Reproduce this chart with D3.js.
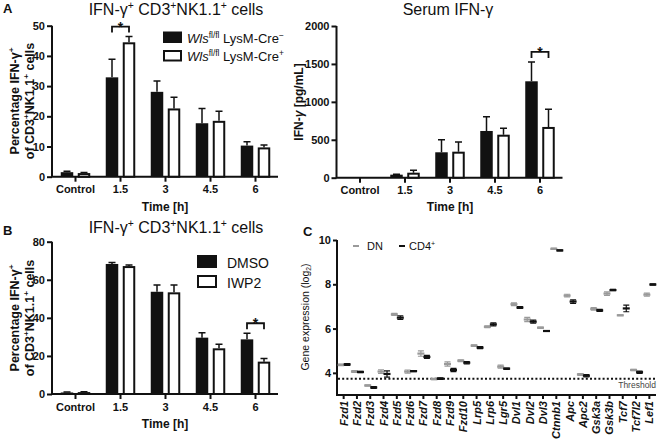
<!DOCTYPE html>
<html>
<head>
<meta charset="utf-8">
<script src="https://cdn.jsdelivr.net/npm/d3@7"></script>
<style>
  body { margin: 0; background: #fff; }
  svg { font-family: "Liberation Sans", Arial, sans-serif; }
</style>
</head>
<body>
<script>
// ---- data ----
var timeCats = ["Control", "1.5", "3", "4.5", "6"];

// A, left: % IFN-g+ of CD3+NK1.1+ cells
var aCellsNeg    = [1.5, 32.9, 28.1, 17.7, 10.3];
var aCellsNegErr = [0.3, 6.0, 3.6, 4.9, 1.3];
var aCellsPos    = [1.2, 44.5, 22.6, 18.5, 9.7];
var aCellsPosErr = [0.2, 1.9, 3.7, 3.2, 0.8];

// A, right: serum IFN-g (pg/mL)
var aSerumNeg    = [0, 40, 335, 616, 1271];
var aSerumNegErr = [0, 6, 166, 188, 255];
var aSerumPos    = [0, 66, 343, 567, 669];
var aSerumPosErr = [0, 31, 128, 84, 233];

// B: DMSO vs IWP2
var bDmso    = [0.8, 68.3, 53.7, 29.6, 28.7];
var bDmsoErr = [0.2, 0.8, 3.5, 2.6, 3.2];
var bIwp2    = [1.0, 67.2, 53.4, 24.0, 17.0];
var bIwp2Err = [0.2, 0.6, 3.8, 2.1, 1.7];

// C: gene expression (log2)
var genes = ["Fzd1","Fzd2","Fzd3","Fzd4","Fzd5","Fzd6","Fzd7","Fzd8","Fzd9","Fzd10",
             "Lrp5","Lrp6","Lgr5","Dvl1","Dvl2","Dvl3","Ctnnb1","Apc","Apc2",
             "Gsk3a","Gsk3b","Tcf7","Tcf7l2","Lef1"];
var dnExpr  = [4.36,4.06,3.43,4.06,6.64,4.06,4.87,3.72,4.40,4.55,5.23,6.08,4.28,7.10,6.41,6.04,9.60,7.49,3.93,6.89,7.58,6.60,4.13,7.53];
var dnErr   = [0.03,0.04,0.03,0.08,0.05,0.07,0.12,0.03,0.10,0.04,0.03,0.04,0.07,0.06,0.10,0.03,0.03,0.06,0.04,0.06,0.08,0.02,0.03,0.07];
var cd4Expr = [4.38,4.04,3.34,3.95,6.49,4.08,4.72,3.74,4.13,4.46,5.14,6.19,4.19,6.95,6.31,5.89,9.53,7.22,3.87,6.82,7.74,6.91,4.03,7.99];
var cd4Err  = [0.04,0.03,0.04,0.14,0.08,0.02,0.07,0.04,0.07,0.05,0.05,0.07,0.03,0.04,0.07,0.02,0.02,0.08,0.05,0.05,0.03,0.15,0.05,0.03];
var threshold = 3.73;

var svg = d3.select("body").append("svg")
    .attr("width", 661)
    .attr("height", 440);

// text with superscripts / italics, parts = [[text, kind], ...]
function rich(sel, parts, fs) {
    var shift = 0;
    parts.forEach(function (p) {
        var kind = p[1] || "";
        var ts = sel.append("tspan").text(p[0]);
        var target = 0;
        if (kind.indexOf("sup") >= 0) { target = -fs * 0.38; ts.attr("font-size", fs * 0.65); }
        if (kind.indexOf("sub") >= 0) { target = fs * 0.22; ts.attr("font-size", fs * 0.65); }
        if (kind.indexOf("i") >= 0) ts.attr("font-style", "italic");
        ts.attr("dy", target - shift);
        shift = target;
    });
    return sel;
}

function label(x, y, fs, weight, anchor, parts, rotate) {
    var t = svg.append("text")
        .attr("font-size", fs)
        .attr("font-weight", weight)
        .attr("text-anchor", anchor)
        .attr("fill", "#111");
    if (rotate) t.attr("transform", "translate(" + x + "," + y + ") rotate(-90)");
    else t.attr("x", x).attr("y", y);
    return rich(t, parts, fs);
}

function barPanel(cfg) {
    var g = svg.append("g");
    var x = d3.scaleBand().domain(timeCats).range([cfg.left, cfg.right]);
    var y = d3.scaleLinear().domain([0, cfg.max]).range([cfg.bottom, cfg.top]);

    var ya = g.append("g")
        .attr("transform", "translate(" + (cfg.left - 1) + ",0)")
        .call(d3.axisLeft(y).tickValues(cfg.ticks).tickFormat(d3.format("d")).tickSize(5).tickPadding(2));
    var xa = g.append("g")
        .attr("transform", "translate(0," + cfg.bottom + ")")
        .call(d3.axisBottom(x).tickSize(5).tickPadding(4));
    [ya, xa].forEach(function (a) {
        a.select(".domain").remove();
        a.selectAll("line").attr("stroke", "#111").attr("stroke-width", 2);
        a.selectAll("text").attr("font-size", 11).attr("font-weight", "bold")
            .attr("fill", "#111").attr("font-family", null);
    });
    g.append("path")
        .attr("d", "M" + (cfg.left - 1) + "," + cfg.top + "V" + (cfg.bottom + 1) +
                   "M" + (cfg.left - 2) + "," + cfg.bottom + "H" + cfg.right)
        .attr("stroke", "#111").attr("stroke-width", 2).attr("fill", "none");

    var bw = 12.5, gap = 4.5;
    var centre = function (c) { return x(c) + x.bandwidth() / 2; };
    cfg.series.forEach(function (s, si) {
        var off = si === 0 ? -gap / 2 - bw : gap / 2;
        var sg = g.append("g");
        var items = timeCats.map(function (c, i) { return { c: c, v: s.vals[i], e: s.errs[i] }; })
            .filter(function (d) { return d.v > 0; });

        sg.selectAll("line.err").data(items).enter().append("path")
            .attr("d", function (d) {
                var cx = centre(d.c) + off + bw / 2;
                return "M" + cx + "," + y(d.v) + "V" + y(d.v + d.e) +
                       "M" + (cx - 3.5) + "," + y(d.v + d.e) + "H" + (cx + 3.5);
            })
            .attr("stroke", "#111").attr("stroke-width", 1.5).attr("fill", "none");

        sg.selectAll("rect").data(items).enter().append("rect")
            .attr("x", function (d) { return centre(d.c) + off + (s.fill === "#fff" ? 1 : 0); })
            .attr("width", s.fill === "#fff" ? bw - 2 : bw)
            .attr("y", function (d) { return y(d.v) + (s.fill === "#fff" ? 1 : 0); })
            .attr("height", function (d) { return Math.max(0, cfg.bottom - y(d.v) - (s.fill === "#fff" ? 1 : 0)); })
            .attr("fill", s.fill)
            .attr("stroke", s.fill === "#fff" ? "#111" : "none")
            .attr("stroke-width", 2);
    });

    // significance bracket
    if (cfg.sig) {
        var i = timeCats.indexOf(cfg.sig);
        var top = d3.max(cfg.series, function (s) { return s.vals[i] + s.errs[i]; });
        var yb = y(top) - 10;
        var x1 = centre(cfg.sig) - gap / 2 - bw / 2, x2 = centre(cfg.sig) + gap / 2 + bw / 2;
        g.append("path")
            .attr("d", "M" + x1 + "," + (yb + 6) + "V" + yb + "H" + x2 + "V" + (yb + 6))
            .attr("stroke", "#111").attr("stroke-width", 1.8).attr("fill", "none");
        g.append("text").attr("x", (x1 + x2) / 2).attr("y", yb + 5)
            .attr("text-anchor", "middle").attr("font-size", 14).attr("font-weight", "bold")
            .attr("fill", "#111").text("*");
    }

    // legend
    if (cfg.legend) {
        var L = cfg.legend;
        cfg.series.forEach(function (s, si) {
            var ly = L.y + si * L.step;
            g.append("rect")
                .attr("x", L.x + (s.fill === "#fff" ? 1 : 0))
                .attr("y", ly + (s.fill === "#fff" ? 1 : 0))
                .attr("width", L.w - (s.fill === "#fff" ? 2 : 0))
                .attr("height", L.h - (s.fill === "#fff" ? 2 : 0))
                .attr("fill", s.fill)
                .attr("stroke", s.fill === "#fff" ? "#111" : "none")
                .attr("stroke-width", 2);
            label(L.x + L.w + L.pad, ly + L.h - 0.5, L.fs, "normal", "start", L.labels[si]);
        });
    }
    return { x: x, y: y };
}

var creNeg = [["Wls", "i"], ["fl/fl", "sup"], [" LysM-Cre"], ["\u2212", "sup"]];
var crePos = [["Wls", "i"], ["fl/fl", "sup"], [" LysM-Cre"], ["+", "sup"]];
var cellsTitle = [["IFN-\u03b3"], ["+", "sup"], [" CD3"], ["+", "sup"], ["NK1.1"], ["+", "sup"], [" cells"]];
var yLab1 = [["Percentage IFN-\u03b3"], ["+", "sup"]];
var yLab2 = [["of CD3"], ["+", "sup"], ["NK1.1"], ["+", "sup"], [" cells"]];

// ---- Panel A left ----
barPanel({
    left: 53, right: 278, top: 25.7, bottom: 176.7, max: 50, ticks: [0, 10, 20, 30, 40, 50],
    series: [{ vals: aCellsNeg, errs: aCellsNegErr, fill: "#111" },
             { vals: aCellsPos, errs: aCellsPosErr, fill: "#fff" }],
    sig: "1.5",
    legend: { x: 163, y: 31.5, w: 19, h: 11.5, step: 18.5, pad: 5, fs: 13, labels: [creNeg, crePos] }
});
label(3, 13, 13, "bold", "start", [["A"]]);
label(176, 15, 16, "normal", "middle", cellsTitle);
label(19, 101, 12.5, "bold", "middle", yLab1, true);
label(33.5, 101, 12.5, "bold", "middle", yLab2, true);
label(165, 211, 12, "bold", "middle", [["Time [h]"]]);

// ---- Panel A right ----
barPanel({
    left: 337.5, right: 562.5, top: 26, bottom: 177.7, max: 2000, ticks: [0, 500, 1000, 1500, 2000],
    series: [{ vals: aSerumNeg, errs: aSerumNegErr, fill: "#111" },
             { vals: aSerumPos, errs: aSerumPosErr, fill: "#fff" }],
    sig: "6"
});
label(448, 15, 16, "normal", "middle", [["Serum IFN-\u03b3"]]);
label(303, 102, 12, "bold", "middle", [["IFN-"], ["\u03b3", "i"], [" [pg/mL]"]], true);
label(450, 211, 12, "bold", "middle", [["Time [h]"]]);

// ---- Panel B ----
barPanel({
    left: 53, right: 278, top: 241.7, bottom: 394, max: 80, ticks: [0, 20, 40, 60, 80],
    series: [{ vals: bDmso, errs: bDmsoErr, fill: "#111" },
             { vals: bIwp2, errs: bIwp2Err, fill: "#fff" }],
    sig: "6",
    legend: { x: 197, y: 255, w: 20, h: 13, step: 20, pad: 10, fs: 14, labels: [[["DMSO"]], [["IWP2"]]] }
});
label(3, 235, 13, "bold", "start", [["B"]]);
label(176, 233, 16, "normal", "middle", cellsTitle);
label(19, 318, 12.5, "bold", "middle", yLab1, true);
label(33.5, 318, 12.5, "bold", "middle", yLab2, true);
label(165, 428, 12, "bold", "middle", [["Time [h]"]]);

// ---- Panel C ----
var xC = d3.scaleBand().domain(genes).range([337, 656]);
var yC = d3.scaleLinear().domain([3, 10]).range([395, 240]);
var gC = svg.append("g");

var yaC = gC.append("g").attr("transform", "translate(337,0)")
    .call(d3.axisLeft(yC).tickValues([4, 6, 8, 10]).tickFormat(d3.format("d")).tickSize(4).tickPadding(2));
var xaC = gC.append("g").attr("transform", "translate(0,395)")
    .call(d3.axisBottom(xC).tickSize(4).tickFormat(""));
[yaC, xaC].forEach(function (a) {
    a.select(".domain").remove();
    a.selectAll("line").attr("stroke", "#111").attr("stroke-width", 2);
    a.selectAll("text").attr("font-size", 11).attr("font-weight", "bold")
        .attr("fill", "#111").attr("font-family", null);
});
gC.append("path").attr("d", "M337,240V396M336,395H656")
    .attr("stroke", "#111").attr("stroke-width", 2).attr("fill", "none");

gC.selectAll("text.gene").data(genes).enter().append("text")
    .attr("class", "gene")
    .attr("transform", function (d) { return "translate(" + (xC(d) + xC.bandwidth() / 2 + 4) + ",401) rotate(-90)"; })
    .attr("text-anchor", "end")
    .attr("font-size", 11).attr("font-weight", "bold").attr("font-style", "italic")
    .attr("fill", "#111")
    .text(function (d) { return d; });

gC.append("line")
    .attr("x1", 338).attr("x2", 656)
    .attr("y1", yC(threshold)).attr("y2", yC(threshold))
    .attr("stroke", "#111").attr("stroke-width", 2).attr("stroke-dasharray", "2,2.2");
gC.append("text").attr("x", 656).attr("y", yC(threshold) + 9)
    .attr("text-anchor", "end").attr("font-size", 8.5).attr("fill", "#444").text("Threshold");

function markers(vals, errs, dx, color) {
    var items = genes.map(function (gname, i) { return { g: gname, v: vals[i], e: errs[i] }; });
    var sg = gC.append("g");
    sg.selectAll("path").data(items).enter().append("path")
        .attr("d", function (d) {
            var cx = xC(d.g) + xC.bandwidth() / 2 + dx;
            var lo = yC(d.v - d.e), hi = yC(d.v + d.e);
            return "M" + cx + "," + lo + "V" + hi +
                   "M" + (cx - 3) + "," + lo + "H" + (cx + 3) +
                   "M" + (cx - 3) + "," + hi + "H" + (cx + 3);
        })
        .attr("stroke", color).attr("stroke-width", 1.2).attr("fill", "none");
    sg.selectAll("line").data(items).enter().append("line")
        .attr("x1", function (d) { return xC(d.g) + xC.bandwidth() / 2 + dx - 3.5; })
        .attr("x2", function (d) { return xC(d.g) + xC.bandwidth() / 2 + dx + 3.5; })
        .attr("y1", function (d) { return yC(d.v); })
        .attr("y2", function (d) { return yC(d.v); })
        .attr("stroke", color).attr("stroke-width", 2.2);
}
markers(dnExpr, dnErr, -2.5, "#9a9a9a");
markers(cd4Expr, cd4Err, 3.5, "#111");

// legend C
gC.append("line").attr("x1", 353).attr("x2", 359).attr("y1", 246).attr("y2", 246)
    .attr("stroke", "#9a9a9a").attr("stroke-width", 2);
label(367, 250, 11, "normal", "start", [["DN"]]);
gC.append("line").attr("x1", 399).attr("x2", 405).attr("y1", 246).attr("y2", 246)
    .attr("stroke", "#111").attr("stroke-width", 2);
label(409, 250, 11, "normal", "start", [["CD4"], ["+", "sup"]]);

label(303, 236, 13, "bold", "start", [["C"]]);
label(309, 317, 10.5, "normal", "middle", [["Gene expression (log"], ["2", "sub"], [")"]], true);
</script>
</body>
</html>
